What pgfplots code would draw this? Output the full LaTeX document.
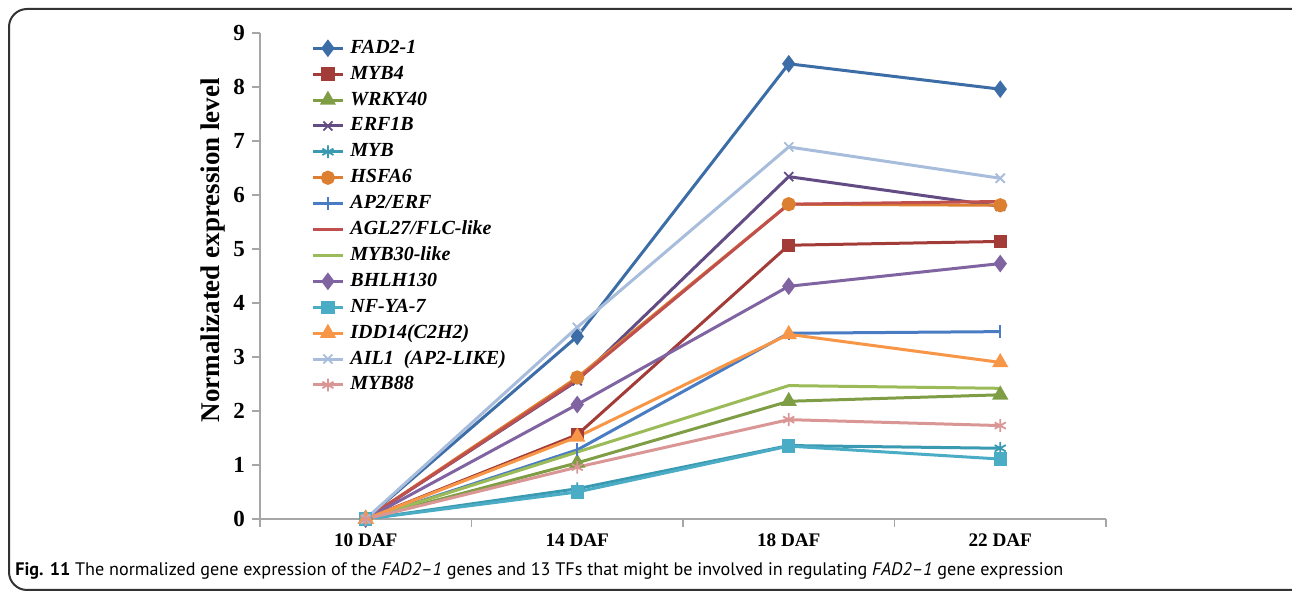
\documentclass[border=0pt]{standalone}
\usepackage{pgfplots}
\usepackage{pgfplotstable}
\pgfplotsset{compat=1.18}
\usepackage{fontspec}
\setmainfont{Liberation Serif}
\newfontfamily\capfont[Ligatures=TeX]{PT Sans}

% series colours
\definecolor{cFAD}{HTML}{3C6DA6}
\definecolor{cMYBiv}{HTML}{A33C39}
\definecolor{cWRKY}{HTML}{7E9D45}
\definecolor{cERF}{HTML}{634C84}
\definecolor{cMYB}{HTML}{3A9AB1}
\definecolor{cHSF}{HTML}{DD7F30}
\definecolor{cAPERF}{HTML}{4A7CC4}
\definecolor{cAGL}{HTML}{C0504D}
\definecolor{cMYBxxx}{HTML}{9BBB59}
\definecolor{cBHLH}{HTML}{8064A2}
\definecolor{cNFYA}{HTML}{4BACC6}
\definecolor{cIDD}{HTML}{F79646}
\definecolor{cAIL}{HTML}{A7BDDB}
\definecolor{cMYBlxxxviii}{HTML}{D99694}

% normalized expression at 10, 14, 18, 22 DAF
\pgfplotstableread{
day FAD  MYBiv WRKY ERF  MYB  HSF  APERF AGL  MYBxxx BHLH NFYA IDD  AIL  MYBlxxxviii
0   0    0     0    0    0    0    0     0    0      0    0    0    0    0
1   3.38 1.56  1.04 2.56 0.56 2.62 1.28  2.58 1.24   2.12 0.50 1.52 3.55 0.96
2   8.43 5.07  2.18 6.34 1.36 5.83 3.44  5.83 2.47   4.31 1.35 3.42 6.89 1.84
3   7.96 5.14  2.30 5.79 1.31 5.81 3.47  5.88 2.42   4.73 1.11 2.90 6.31 1.73
}\datatable

\begin{document}
\begin{tikzpicture}
\path[use as bounding box] (0pt,0pt) rectangle (646pt,297pt);
\begin{scope}
\clip (0pt,0pt) rectangle (646pt,297pt);
\draw[line width=1pt, black!80, rounded corners=9pt] (4.5pt,2pt) rectangle (660pt,292.5pt);
\end{scope}

\begin{axis}[
  at={(130pt,37.5pt)}, anchor=south west,
  scale only axis, width=423pt, height=243pt,
  xmin=-0.5, xmax=3.5, ymin=0, ymax=9,
  axis lines=left,
  axis line style={-, draw=black!35, line width=0.9pt},
  tick align=outside,
  xtick={0,1,2,3},
  xticklabels={10 DAF,14 DAF,18 DAF,22 DAF},
  major x tick style={draw=none},
  minor xtick={-0.5,0.5,1.5,2.5,3.5},
  minor tick length=4pt,
  major tick length=4pt,
  tick style={draw=black!35, line width=0.9pt},
  ytick={0,1,...,9},
  /pgf/number format/assume math mode=true,
  y tick label style={font=\bfseries\fontsize{11.5}{13}\selectfont},
  x tick label style={font=\bfseries\fontsize{9.6}{11}\selectfont, yshift=0pt},
  ylabel={Normalizated expression level},
  every axis y label/.style={at={(rel axis cs:-0.0556,0.553)}, anchor=center, rotate=90,
     font=\bfseries\fontsize{13.5}{15}\selectfont},
  every axis plot/.append style={line width=1.5pt, mark options={solid}},
  legend cell align=left,
  legend image code/.code={\draw[mark repeat=2,mark phase=2,#1]
     plot coordinates {(0pt,0pt)(7.5pt,0pt)(15pt,0pt)};},
  legend style={at={(rel axis cs:0.0603,0.988)}, anchor=north west,
     draw=none, fill=none, inner sep=0pt, column sep=3pt, row sep=3.95pt,
     nodes={inner sep=0pt, text height=7pt, text depth=2pt},
     font=\bfseries\itshape\fontsize{10}{12}\selectfont},
]
\addplot[cFAD, mark=diamond*, mark size=3.2pt] table[x=day,y=FAD]{\datatable};
\addlegendentry{FAD2-1}
\addplot[cMYBiv, mark=square*, mark size=2.6pt] table[x=day,y=MYBiv]{\datatable};
\addlegendentry{MYB4}
\addplot[cWRKY, mark=triangle*, mark size=3.2pt] table[x=day,y=WRKY]{\datatable};
\addlegendentry{WRKY40}
\addplot[cERF, mark=x, mark size=3.2pt, mark options={line width=0.9pt}] table[x=day,y=ERF]{\datatable};
\addlegendentry{ERF1B}
\addplot[cMYB, mark=asterisk, mark size=3.2pt, mark options={line width=0.9pt}] table[x=day,y=MYB]{\datatable};
\addlegendentry{MYB}
\addplot[cHSF, mark=*, mark size=2.8pt] table[x=day,y=HSF]{\datatable};
\addlegendentry{HSFA6}
\addplot[cAPERF, mark=|, mark size=3.2pt, mark options={line width=0.9pt}] table[x=day,y=APERF]{\datatable};
\addlegendentry{AP2/ERF}
\addplot[cAGL, mark=none] table[x=day,y=AGL]{\datatable};
\addlegendentry{AGL27/FLC-like}
\addplot[cMYBxxx, mark=none] table[x=day,y=MYBxxx]{\datatable};
\addlegendentry{MYB30-like}
\addplot[cBHLH, mark=diamond*, mark size=3.2pt] table[x=day,y=BHLH]{\datatable};
\addlegendentry{BHLH130}
\addplot[cNFYA, mark=square*, mark size=2.6pt] table[x=day,y=NFYA]{\datatable};
\addlegendentry{NF-YA-7}
\addplot[cIDD, mark=triangle*, mark size=3.2pt] table[x=day,y=IDD]{\datatable};
\addlegendentry{IDD14(C2H2)}
\addplot[cAIL, mark=x, mark size=3.2pt, mark options={line width=0.9pt}] table[x=day,y=AIL]{\datatable};
\addlegendentry{AIL1\,\,\,(AP2-LIKE)}
\addplot[cMYBlxxxviii, mark=asterisk, mark size=3.2pt, mark options={line width=0.9pt}] table[x=day,y=MYBlxxxviii]{\datatable};
\addlegendentry{MYB88}
\end{axis}

\node[anchor=base west, inner sep=0pt] at (7.5pt,9pt)
  {\resizebox{524pt}{!}{\capfont\textbf{Fig. 11} The normalized gene expression of the \textit{FAD2--1} genes and 13 TFs that might be involved in regulating \textit{FAD2--1} gene expression}};
\end{tikzpicture}
\end{document}
